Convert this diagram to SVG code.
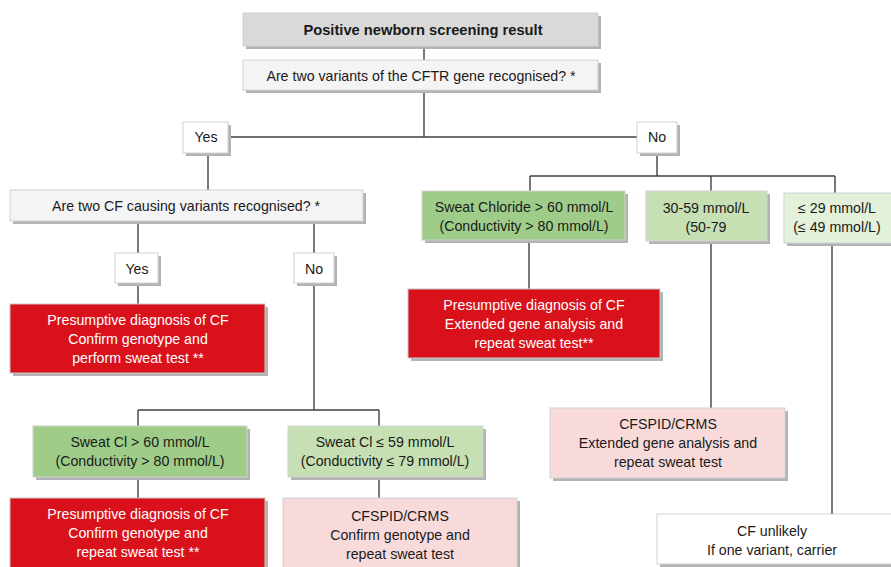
<svg xmlns="http://www.w3.org/2000/svg" width="891" height="567" viewBox="0 0 891 567">
<style>
.bg{fill:#ffffff}
.sh{fill:#b3b3b3}
.box{stroke:#d2d2d2;stroke-width:1}
.title{fill:#d9d9d9}
.q{fill:#f4f4f5}
.w{fill:#ffffff}
.g1{fill:#9fcd89}
.g2{fill:#c6e0b4}
.g3{fill:#e3f0da}
.red{fill:#d9111b;stroke:#c8c8c8}
.pink{fill:#f9dadb}
text{font-family:"Liberation Sans",Arial,sans-serif;font-size:14.2px;fill:#1a1a1a;text-anchor:middle;dominant-baseline:central}
text.b{font-weight:bold;font-size:14.7px}
text.wt{fill:#ffffff}
.ln{stroke:#404040;stroke-width:1.4;fill:none}
</style>
<rect class="bg" x="0" y="0" width="891" height="567"/>
<g id="connectors">
<path class="ln" d="M424,46V60"/>
<path class="ln" d="M424,90V137M230,137H637"/>
<path class="ln" d="M208,153V190"/>
<path class="ln" d="M657,153V176M530,176H835M530,176V191M711,176V191M835,176V193"/>
<path class="ln" d="M138,221V253M314,221V253"/>
<path class="ln" d="M138,283V304"/>
<path class="ln" d="M314,283V410M138,410H379M138,410V426M379,410V426"/>
<path class="ln" d="M138,477V498M379,477V498"/>
<path class="ln" d="M529,240V289"/>
<path class="ln" d="M711,241V408"/>
<path class="ln" d="M832,243V514"/>
</g>
<g id="n-start">
<rect class="sh" x="246" y="16" width="355" height="33"/>
<rect class="box title" x="243" y="13" width="355" height="33"/>
<text class="b" x="423" y="30">Positive newborn screening result</text>
</g>
<g id="n-q1">
<rect class="sh" x="246" y="63" width="355" height="30"/>
<rect class="box q" x="243" y="60" width="355" height="30"/>
<text x="421" y="76">Are two variants of the CFTR gene recognised? *</text>
</g>
<g id="n-yes1">
<rect class="sh" x="186" y="125" width="45" height="31"/>
<rect class="box w" x="183" y="122" width="45" height="31"/>
<text x="206" y="137">Yes</text>
</g>
<g id="n-no1">
<rect class="sh" x="640" y="125" width="40" height="31"/>
<rect class="box w" x="637" y="122" width="40" height="31"/>
<text x="657" y="137">No</text>
</g>
<g id="n-q2">
<rect class="sh" x="13" y="193" width="353" height="31"/>
<rect class="box q" x="10" y="190" width="353" height="31"/>
<text x="186" y="206">Are two CF causing variants recognised? *</text>
</g>
<g id="n-yes2">
<rect class="sh" x="118" y="256" width="43" height="30"/>
<rect class="box w" x="115" y="253" width="43" height="30"/>
<text x="137" y="269">Yes</text>
</g>
<g id="n-no2">
<rect class="sh" x="297" y="256" width="40" height="30"/>
<rect class="box w" x="294" y="253" width="40" height="30"/>
<text x="314" y="269">No</text>
</g>
<g id="n-red1">
<rect class="sh" x="13" y="307" width="255" height="69"/>
<rect class="red" x="10" y="304" width="255" height="69"/>
<text class="wt" x="138" y="320">Presumptive diagnosis of CF</text>
<text class="wt" x="138" y="339">Confirm genotype and</text>
<text class="wt" x="138" y="358">perform sweat test **</text>
</g>
<g id="n-gl1">
<rect class="sh" x="36" y="429" width="214" height="51"/>
<rect class="box g1" x="33" y="426" width="214" height="51"/>
<text x="140" y="442">Sweat Cl &gt; 60 mmol/L</text>
<text x="140" y="461">(Conductivity &gt; 80 mmol/L)</text>
</g>
<g id="n-gl2">
<rect class="sh" x="291" y="429" width="195" height="51"/>
<rect class="box g2" x="288" y="426" width="195" height="51"/>
<text x="385" y="442">Sweat Cl ≤ 59 mmol/L</text>
<text x="385" y="461">(Conductivity ≤ 79 mmol/L)</text>
</g>
<g id="n-red2">
<rect class="sh" x="13" y="501" width="255" height="72"/>
<rect class="red" x="10" y="498" width="255" height="72"/>
<text class="wt" x="138" y="514">Presumptive diagnosis of CF</text>
<text class="wt" x="138" y="533">Confirm genotype and</text>
<text class="wt" x="138" y="552">repeat sweat test **</text>
</g>
<g id="n-pink2">
<rect class="sh" x="286" y="501" width="234" height="72"/>
<rect class="box pink" x="283" y="498" width="234" height="72"/>
<text x="400" y="516">CFSPID/CRMS</text>
<text x="400" y="535">Confirm genotype and</text>
<text x="400" y="554">repeat sweat test</text>
</g>
<g id="n-gr1">
<rect class="sh" x="425" y="194" width="203" height="49"/>
<rect class="box g1" x="422" y="191" width="203" height="49"/>
<text x="524" y="207">Sweat Chloride &gt; 60 mmol/L</text>
<text x="524" y="226">(Conductivity &gt; 80 mmol/L)</text>
</g>
<g id="n-gr2">
<rect class="sh" x="649" y="194" width="121" height="50"/>
<rect class="box g2" x="646" y="191" width="121" height="50"/>
<text x="706" y="208">30-59 mmol/L</text>
<text x="706" y="227">(50-79</text>
</g>
<g id="n-gr3">
<rect class="sh" x="787" y="196" width="110" height="50"/>
<rect class="box g3" x="784" y="193" width="110" height="50"/>
<text x="837" y="208">≤ 29 mmol/L</text>
<text x="837" y="227">(≤ 49 mmol/L)</text>
</g>
<g id="n-redr">
<rect class="sh" x="411" y="292" width="252" height="69"/>
<rect class="red" x="408" y="289" width="252" height="69"/>
<text class="wt" x="534" y="305">Presumptive diagnosis of CF</text>
<text class="wt" x="534" y="324">Extended gene analysis and</text>
<text class="wt" x="534" y="343">repeat sweat test**</text>
</g>
<g id="n-pinkr">
<rect class="sh" x="553" y="411" width="235" height="70"/>
<rect class="box pink" x="550" y="408" width="235" height="70"/>
<text x="668" y="424">CFSPID/CRMS</text>
<text x="668" y="443">Extended gene analysis and</text>
<text x="668" y="462">repeat sweat test</text>
</g>
<g id="n-unlikely">
<rect class="sh" x="660" y="517" width="240" height="50"/>
<rect class="box w" x="657" y="514" width="240" height="50"/>
<text x="772" y="531">CF unlikely</text>
<text x="772" y="550">If one variant, carrier</text>
</g>
</svg>
